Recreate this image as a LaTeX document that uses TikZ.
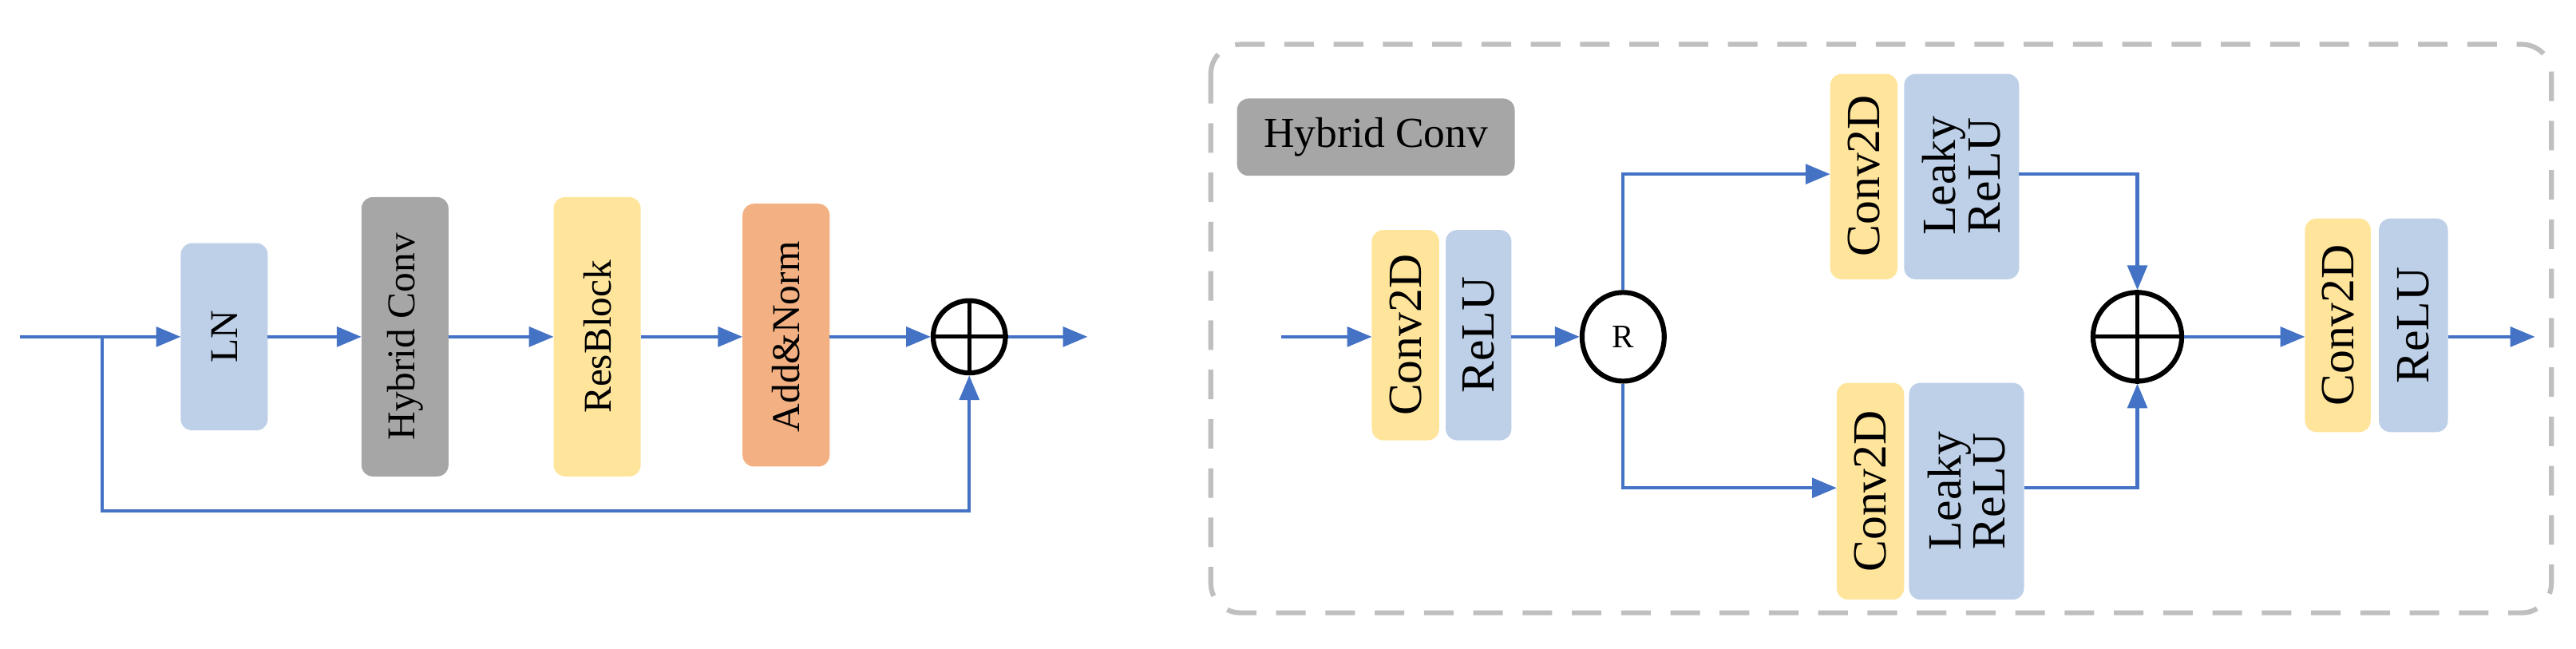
\documentclass[tikz,border=0pt]{standalone}
\usepackage{fontspec}
\setmainfont{Liberation Serif}
\usetikzlibrary{arrows.meta,calc,shapes.geometric}
\definecolor{ablue}{HTML}{4472C4}
\definecolor{bblue}{HTML}{BDD0E8}
\definecolor{byel}{HTML}{FFE59C}
\definecolor{bgray}{HTML}{A6A6A6}
\definecolor{bora}{HTML}{F3B183}
\definecolor{dgray}{HTML}{BFBFBF}
\tikzset{
 box/.style={draw=none,rounded corners=7pt},
 lab/.style={rotate=90,font=\fontsize{24}{26}\selectfont,align=center},
 labb/.style={rotate=90,font=\fontsize{29}{27}\selectfont,align=center},
 arr/.style={draw=ablue,line width=2pt,-{Triangle[length=15pt,width=12pt]}},
 circ/.style={draw=black,line width=3pt,circle,inner sep=0pt},
}
\begin{document}
\begin{tikzpicture}[x=1pt,y=-1pt]
\useasboundingbox (0,0) rectangle (1568,395);
% left
\path[box,fill=bblue] (110,148) rectangle (163,262);
\node[lab] (ln) at (136.5,205) {LN};
\path[box,fill=bgray] (220,120) rectangle (273,290);
\node[lab] (hc) at (246.5,205) {Hybrid Conv};
\path[box,fill=byel] (337,120) rectangle (390,290);
\node[lab] (rb) at (363.5,205) {ResBlock};
\path[box,fill=bora] (452,124) rectangle (505,284);
\node[lab] (an) at (478.5,205) {Add\&Norm};
\node[circ,minimum size=44pt] (s1) at (590,205) {};
\draw[line width=2.5pt] (s1.north)--(s1.south) (s1.west)--(s1.east);
\coordinate (in1) at (12,205); \coordinate (br) at (62,205);
\coordinate (out1) at (662,205);
\draw[arr] (in1) -- (110,205);
\draw[arr] (163,205) -- (220,205);
\draw[arr] (273,205) -- (337,205);
\draw[arr] (390,205) -- (452,205);
\draw[arr] (505,205) -- (s1.west);
\draw[arr] (s1.east) -- (out1);
\draw[arr] (br) |- (590,311) -- (s1.south);
% right
\draw[dgray,line width=3pt,dash pattern=on 18pt off 12pt,rounded corners=18pt] (737,27) rectangle (1553,373);
\path[box,fill=bgray] (753,60) rectangle (922,107);
\node[font=\fontsize{26}{28}\selectfont] (hct) at (837.5,83.5) {Hybrid Conv};
\path[box,fill=byel] (835,140) rectangle (876,268);
\node[labb] (c1) at (855.5,204) {Conv2D};
\path[box,fill=bblue] (880,140) rectangle (920,268);
\node[labb] (r1) at (900,204) {ReLU};
\node[draw=black,line width=3pt,ellipse,inner sep=0pt,minimum width=50pt,minimum height=54pt,font=\fontsize{20}{22}\selectfont] (R) at (988,205) {R};
\path[box,fill=byel] (1114,45) rectangle (1155,170);
\node[labb] (c2) at (1134.5,107) {Conv2D};
\path[box,fill=bblue] (1159,45) rectangle (1229,170);
\node[labb] (r2) at (1194,107) {Leaky\\ReLU};
\path[box,fill=byel] (1118,233) rectangle (1159,365);
\node[labb] (c3) at (1138.5,299) {Conv2D};
\path[box,fill=bblue] (1162,233) rectangle (1232,365);
\node[labb] (r3) at (1197,299) {Leaky\\ReLU};
\node[circ,minimum size=54pt] (s2) at (1301,205) {};
\draw[line width=2.5pt] (s2.north)--(s2.south) (s2.west)--(s2.east);
\path[box,fill=byel] (1403,133) rectangle (1443,263);
\node[labb] (c4) at (1423,198) {Conv2D};
\path[box,fill=bblue] (1448,133) rectangle (1490,263);
\node[labb] (r4) at (1469,198) {ReLU};
\coordinate (in2) at (780,205); \coordinate (out2) at (1543,205);
\draw[arr] (in2) -- (835,205);
\draw[arr] (920,205) -- (R.west);
\draw[arr] (R.north) |- (1114,106);
\draw[arr] (R.south) |- (1118,297);
\draw[arr] (1229,106) -| (s2.north);
\draw[arr] (1232,297) -| (s2.south);
\draw[arr] (s2.east) -- (1403,205);
\draw[arr] (1490,205) -- (out2);
\end{tikzpicture}
\end{document}
